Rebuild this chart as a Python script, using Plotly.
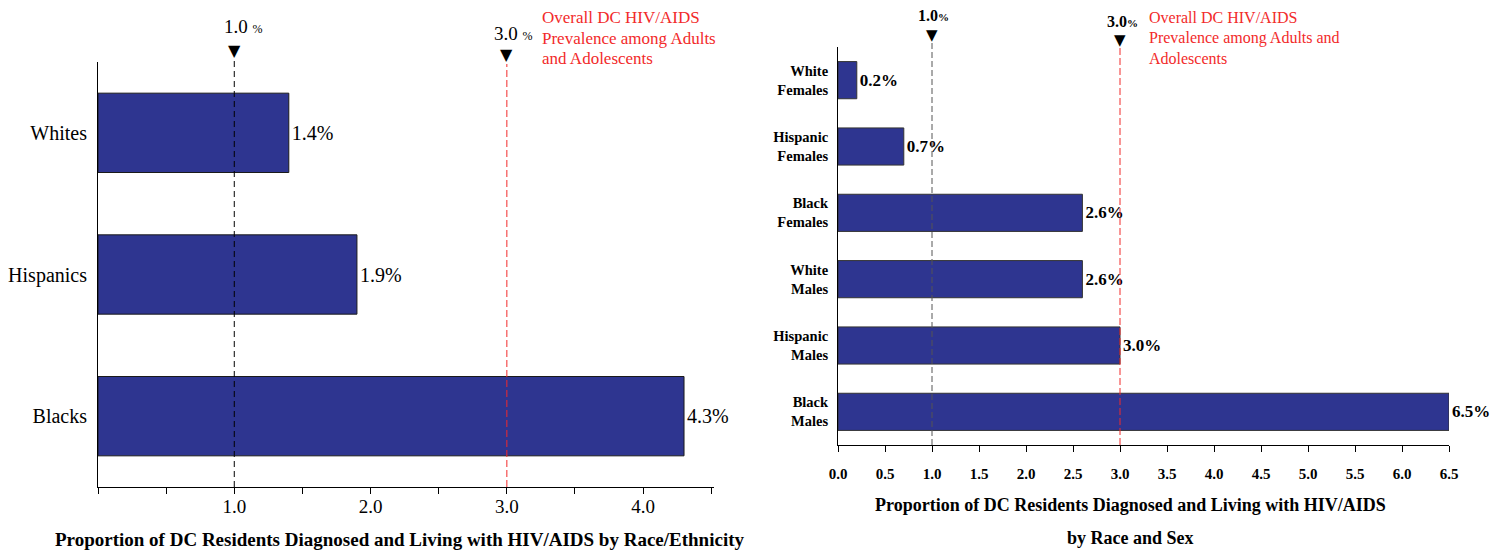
import plotly.graph_objects as go

# ---------------- data ----------------
left_categories = ["Whites", "Hispanics", "Blacks"]
left_values = [1.4, 1.9, 4.3]

right_categories = ["White<br>Females", "Hispanic<br>Females", "Black<br>Females",
                    "White<br>Males", "Hispanic<br>Males", "Black<br>Males"]
right_values = [0.2, 0.7, 2.6, 2.6, 3.0, 6.5]

low_ref = 1.0
overall_ref = 3.0

left_tick_vals = [0, 0.5, 1.0, 1.5, 2.0, 2.5, 3.0, 3.5, 4.0, 4.5]
left_tick_text = ["", "", "1.0", "", "2.0", "", "3.0", "", "4.0", ""]
right_tick_vals = [0, 0.5, 1.0, 1.5, 2.0, 2.5, 3.0, 3.5, 4.0, 4.5, 5.0, 5.5, 6.0, 6.5]
right_tick_text = ["0.0", "0.5", "1.0", "1.5", "2.0", "2.5", "3.0", "3.5",
                   "4.0", "4.5", "5.0", "5.5", "6.0", "6.5"]

left_title = "Proportion of DC Residents Diagnosed and Living with HIV/AIDS by Race/Ethnicity"
right_title_lines = ["Proportion of DC Residents Diagnosed and Living with HIV/AIDS",
                     "by Race and Sex"]
overall_note_left = ["Overall DC HIV/AIDS", "Prevalence among Adults", "and Adolescents"]
overall_note_right = ["Overall DC HIV/AIDS", "Prevalence among Adults and", "Adolescents"]

# ---------------- style ----------------
W, H = 1512, 550
SERIF = "Liberation Serif"
BAR = "#2E3590"
RED = "#F22A2A"


def px_x(p):
    return p / W


def px_y(p):
    return 1 - p / H


fig = go.Figure()

fig.add_trace(go.Bar(
    x=left_values, y=left_categories, orientation="h",
    marker=dict(color=BAR, line=dict(color="#1a1a1a", width=1)),
    width=0.56,
    text=[f"{v:.1f}%" for v in left_values], textposition="outside",
    textfont=dict(family=SERIF, size=20, color="black"),
    cliponaxis=False, xaxis="x", yaxis="y", showlegend=False, hoverinfo="skip",
))

fig.add_trace(go.Bar(
    x=right_values, y=right_categories, orientation="h",
    marker=dict(color=BAR, line=dict(color="#333333", width=1)),
    width=0.56,
    text=[f"<b>{v:.1f}%</b>" for v in right_values], textposition="outside",
    textfont=dict(family=SERIF, size=17, color="black"),
    cliponaxis=False, xaxis="x2", yaxis="y2", showlegend=False, hoverinfo="skip",
))

lx0, lx1 = 98, 714
ly_top, ly_bot = 62, 487
rx0, rx1 = 838, 1449
ry_top, ry_bot = 47, 445
left_range = [0, 4.52]

fig.update_layout(
    width=W, height=H,
    margin=dict(l=0, r=0, t=0, b=0, autoexpand=False),
    paper_bgcolor="white", plot_bgcolor="white",
    xaxis=dict(domain=[px_x(lx0), px_x(lx1)], range=left_range, automargin=False,
               tickvals=left_tick_vals, showticklabels=False,
               ticks="outside", ticklen=6, tickcolor="black", tickwidth=1,
               showline=True, linecolor="black", linewidth=1,
               showgrid=False, zeroline=False, anchor="y"),
    # label-only companion axis so the tick labels sit close to the axis line
    xaxis3=dict(domain=[px_x(lx0), px_x(lx1)], range=left_range, automargin=False,
                overlaying="x", anchor="y", side="bottom",
                tickvals=left_tick_vals, ticktext=left_tick_text,
                ticks="", showline=False, showgrid=False, zeroline=False,
                ticklabelstandoff=6,
                tickfont=dict(family=SERIF, size=19, color="black")),
    yaxis=dict(domain=[px_y(ly_bot), px_y(ly_top)], range=[2.5, -0.5], automargin=False,
               type="category", categoryorder="array", categoryarray=left_categories,
               showline=True, linecolor="black", linewidth=1,
               ticks="", showgrid=False, zeroline=False, anchor="x",
               ticklabelstandoff=6,
               tickfont=dict(family=SERIF, size=20, color="black")),
    xaxis2=dict(domain=[px_x(rx0), px_x(rx1)], range=[0, 6.5], automargin=False,
                tickvals=right_tick_vals, ticktext=right_tick_text,
                ticks="outside", ticklen=6, tickcolor="black", tickwidth=1,
                showline=True, linecolor="black", linewidth=1,
                showgrid=False, zeroline=False, anchor="y2",
                ticklabelstandoff=9,
                tickfont=dict(family=SERIF, size=15, color="black", weight="bold")),
    yaxis2=dict(domain=[px_y(ry_bot), px_y(ry_top)], range=[5.5, -0.5], automargin=False,
                type="category", categoryorder="array", categoryarray=right_categories,
                showline=True, linecolor="black", linewidth=1,
                ticks="", showgrid=False, zeroline=False, anchor="x2",
                ticklabelstandoff=6,
                tickfont=dict(family=SERIF, size=14.5, color="black", weight="bold")),
)

# invisible trace to make the label axis render
fig.add_trace(go.Scatter(x=[left_range[0]], y=[left_categories[0]], xaxis="x3", yaxis="y",
                         mode="markers", marker=dict(opacity=0), showlegend=False,
                         hoverinfo="skip"))

# reference lines
fig.add_shape(type="line", xref="x", yref="paper", x0=low_ref, x1=low_ref,
              y0=px_y(ly_bot), y1=px_y(57), line=dict(color="black", width=1, dash="6px,4px"))
fig.add_shape(type="line", xref="x", yref="paper", x0=overall_ref, x1=overall_ref,
              y0=px_y(ly_bot), y1=px_y(64), line=dict(color=RED, width=1, dash="7px,3px"))
fig.add_shape(type="line", xref="x2", yref="paper", x0=low_ref, x1=low_ref,
              y0=px_y(ry_bot), y1=px_y(43), line=dict(color="#555555", width=1, dash="6px,3px"))
fig.add_shape(type="line", xref="x2", yref="paper", x0=overall_ref, x1=overall_ref,
              y0=px_y(ry_bot), y1=px_y(48), line=dict(color=RED, width=1, dash="7px,3px"))

ann = []
TRI = "DejaVu Sans"


def add_ann(**kw):
    kw.setdefault("showarrow", False)
    kw.setdefault("xanchor", "center")
    kw.setdefault("yanchor", "middle")
    ann.append(kw)


# left markers
add_ann(x=low_ref, xref="x", y=px_y(50), yref="paper", text="▼",
        font=dict(family=TRI, size=16, color="black"))
add_ann(x=overall_ref, xref="x", y=px_y(55), yref="paper", text="▼",
        font=dict(family=TRI, size=16, color="black"))
add_ann(x=low_ref, xref="x", y=px_y(27), yref="paper", xshift=9,
        text="1.0 <span style='font-size:12px'>%</span>",
        font=dict(family=SERIF, size=19, color="black"))
add_ann(x=overall_ref, xref="x", y=px_y(33), yref="paper", xshift=7,
        text="3.0 <span style='font-size:12px'>%</span>",
        font=dict(family=SERIF, size=19, color="black"))
for i, line in enumerate(overall_note_left):
    add_ann(x=px_x(540), xref="paper", y=px_y(18 + 20 * i), yref="paper", xanchor="left",
            text=line, font=dict(family=SERIF, size=17, color=RED))
# right markers
add_ann(x=low_ref, xref="x2", y=px_y(35), yref="paper", text="▼",
        font=dict(family=TRI, size=15, color="black"))
add_ann(x=overall_ref, xref="x2", y=px_y(40), yref="paper", text="▼",
        font=dict(family=TRI, size=15, color="black"))
add_ann(x=low_ref, xref="x2", y=px_y(16), yref="paper", xshift=2,
        text="<b>1.0<span style='font-size:11px'>%</span></b>",
        font=dict(family=SERIF, size=16, color="black"))
add_ann(x=overall_ref, xref="x2", y=px_y(21), yref="paper", xshift=2,
        text="<b>3.0<span style='font-size:11px'>%</span></b>",
        font=dict(family=SERIF, size=16, color="black"))
for i, line in enumerate(overall_note_right):
    add_ann(x=px_x(1147), xref="paper", y=px_y(18 + 20 * i), yref="paper", xanchor="left",
            text=line, font=dict(family=SERIF, size=16, color=RED))
# axis titles
add_ann(x=px_x(400), xref="paper", y=px_y(539), yref="paper",
        text=f"<b>{left_title}</b>",
        font=dict(family=SERIF, size=19, color="black"))
for i, line in enumerate(right_title_lines):
    add_ann(x=px_x(1130), xref="paper", y=px_y(505 + 33 * i), yref="paper",
            text=f"<b>{line}</b>",
            font=dict(family=SERIF, size=18, color="black"))

fig.update_layout(annotations=ann)

fig.write_html("out.html",
               config={"displayModeBar": False},
               post_script="document.body.style.margin='0px';document.body.style.overflow='hidden';")
